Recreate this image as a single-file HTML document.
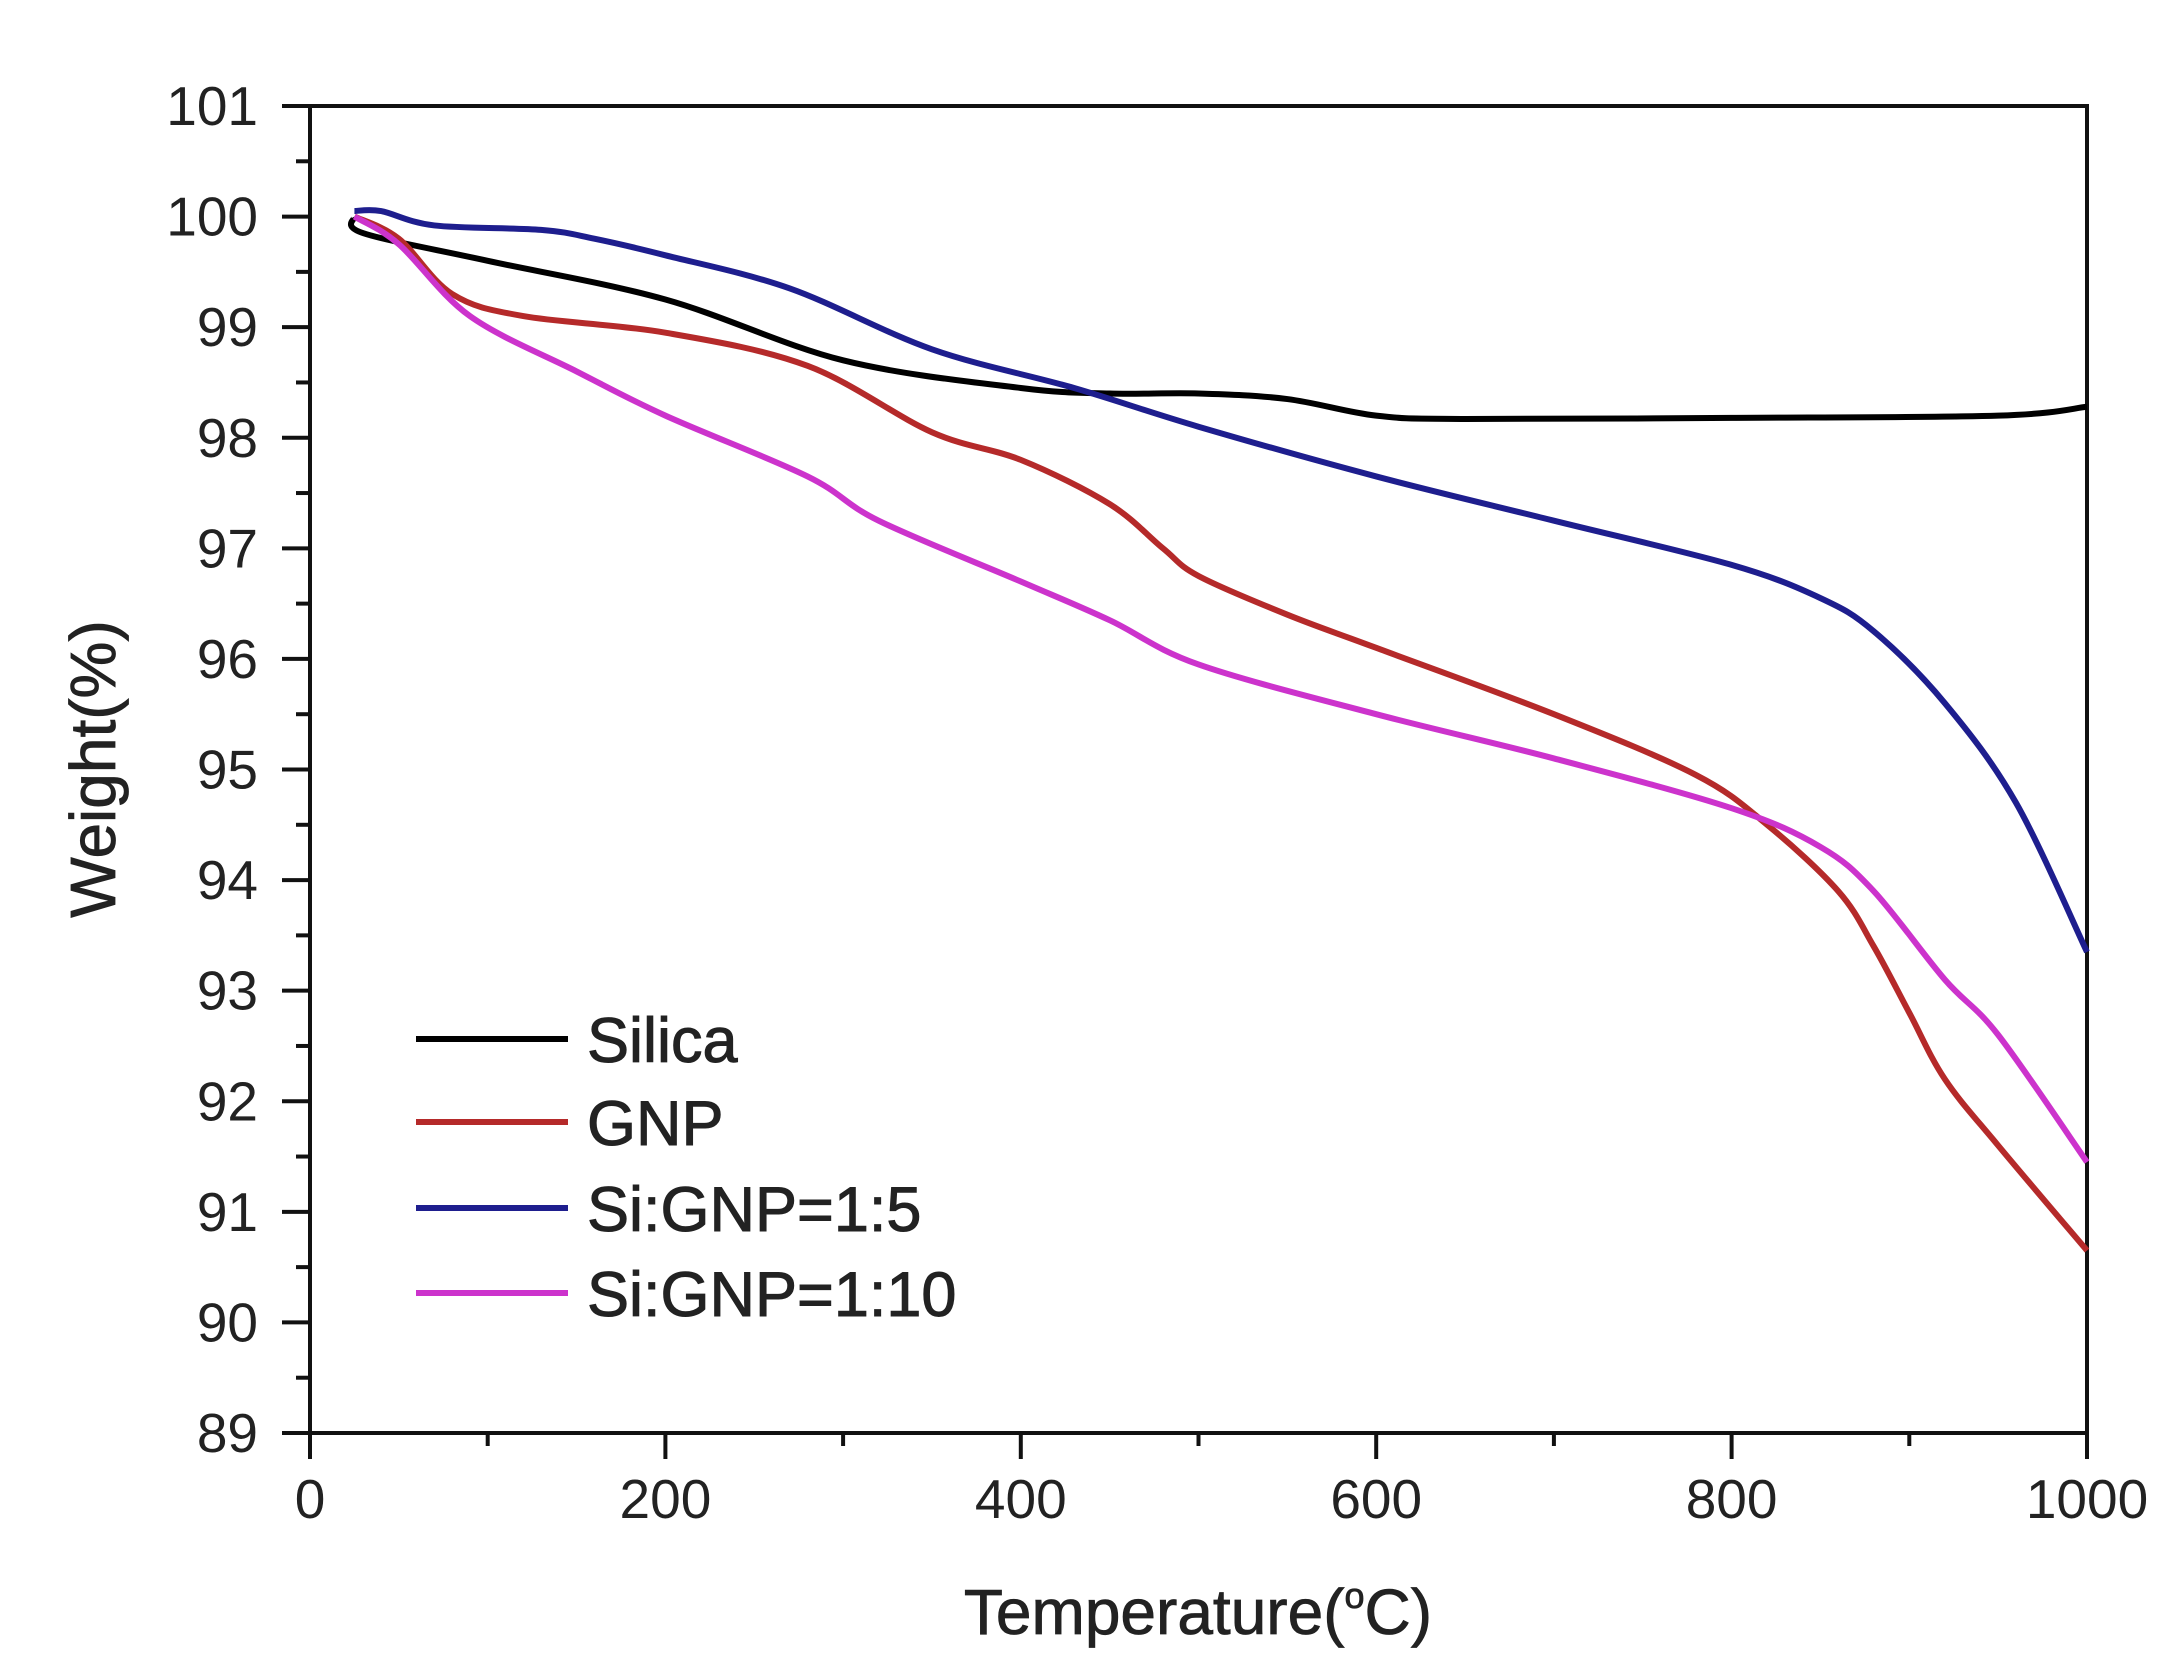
<!DOCTYPE html>
<html><head><meta charset="utf-8"><style>
html,body{margin:0;padding:0;background:#fff}
svg{display:block}
text{font-family:"Liberation Sans",sans-serif;fill:#222}
</style></head><body>
<svg id="chart" width="2171" height="1673" viewBox="0 0 2171 1673" xmlns="http://www.w3.org/2000/svg">
<g id="axes"></g>
<g id="series"></g>
<g id="legend"></g>
<text x="1198" y="1634" font-size="64" text-anchor="middle" stroke="#222" stroke-width="0.8">Temperature(<tspan font-size="36" dy="-26">o</tspan><tspan dy="26">C)</tspan></text>
<text transform="translate(115,769) rotate(-90)" font-size="64" text-anchor="middle" stroke="#222" stroke-width="0.8">Weight(%)</text>
</svg>
<script>
const seriesNames=["Silica","GNP","Si:GNP=1:5","Si:GNP=1:10"];
const seriesColors=["#000000","#b52a2a","#1e1e8e","#cc33cc"];
const silicaT=[25,30,100,200,300,400,450,500,550,600,650,800,950,1000];
const silicaW=[100,99.85,99.6,99.25,98.7,98.45,98.4,98.4,98.35,98.2,98.17,98.18,98.2,98.28];
const gnpT=[25,50,80,120,200,280,350,400,450,480,500,550,600,700,780,820,860,880,900,920,950,1000];
const gnpW=[100,99.8,99.3,99.1,98.95,98.65,98.05,97.8,97.4,97.0,96.75,96.4,96.1,95.5,94.95,94.5,93.9,93.4,92.8,92.2,91.6,90.65];
const s15T=[25,40,70,130,160,200,270,350,430,500,600,700,800,850,880,920,960,1000];
const s15W=[100.05,100.05,99.92,99.88,99.8,99.65,99.35,98.8,98.45,98.1,97.65,97.25,96.85,96.55,96.25,95.6,94.7,93.35];
const s110T=[25,50,90,150,200,280,320,400,450,500,600,700,800,850,880,920,950,1000];
const s110W=[100,99.75,99.1,98.6,98.2,97.65,97.25,96.7,96.35,95.95,95.5,95.1,94.65,94.3,93.9,93.1,92.6,91.45];
const xTicks=[0,200,400,600,800,1000];
const yTicks=[89,90,91,92,93,94,95,96,97,98,99,100,101];

const NS="http://www.w3.org/2000/svg";
const L=310,R=2087,T=106,B=1433;
const xMin=0,xMax=1000,yMin=89,yMax=101;
function sx(v){return L+(v-xMin)/(xMax-xMin)*(R-L);}
function sy(v){return B-(v-yMin)/(yMax-yMin)*(B-T);}
function mk(tag,attrs,parent){const e=document.createElementNS(NS,tag);for(const k in attrs)e.setAttribute(k,attrs[k]);parent.appendChild(e);return e;}

const axes=document.getElementById('axes');
const frame=mk('rect',{x:L,y:T,width:R-L,height:B-T,fill:'none',stroke:'#111','stroke-width':4},axes);


yTicks.forEach((v,i)=>{
  const t=mk('line',{x1:L-28,x2:L,y1:sy(v),y2:sy(v),stroke:'#111','stroke-width':4},axes);
  
  
  if(i<yTicks.length-1){
    const m=mk('line',{x1:L-14,x2:L,y1:sy(v+0.5),y2:sy(v+0.5),stroke:'#111','stroke-width':4},axes);
    
    
  }
  const lb=mk('text',{x:L-52,y:sy(v)+19,'font-size':55,'text-anchor':'end'},axes);
  lb.textContent=v;
  
  
});
xTicks.forEach((v,i)=>{
  const t=mk('line',{x1:sx(v),x2:sx(v),y1:B,y2:B+26,stroke:'#111','stroke-width':4},axes);
  
  
  if(i<xTicks.length-1){
    const m=mk('line',{x1:sx(v+100),x2:sx(v+100),y1:B,y2:B+13,stroke:'#111','stroke-width':4},axes);
    
    
  }
  const lb=mk('text',{x:sx(v),y:B+85,'font-size':55,'text-anchor':'middle'},axes);
  lb.textContent=v;
  
  
});

const ser=document.getElementById('series');
const allT=[silicaT,gnpT,s15T,s110T], allW=[silicaW,gnpW,s15W,s110W];
const lineNames=['silica-line','gnp-line','si-gnp-1-5-line','si-gnp-1-10-line'];
allT.forEach((ts,k)=>{
  const ws=allW[k];
  let pts=ts.map((t,i)=>[sx(t),sy(ws[i])]);
  let d='M'+pts[0][0]+','+pts[0][1];
  for(let i=0;i<pts.length-1;i++){
    const p0=pts[Math.max(0,i-1)],p1=pts[i],p2=pts[i+1],p3=pts[Math.min(pts.length-1,i+2)];
    const c1=[p1[0]+(p2[0]-p0[0])/6,p1[1]+(p2[1]-p0[1])/6];
    const c2=[p2[0]-(p3[0]-p1[0])/6,p2[1]-(p3[1]-p1[1])/6];
    d+=' C'+c1+' '+c2+' '+p2;
  }
  const p=mk('path',{d:d,fill:'none',stroke:seriesColors[k],'stroke-width':6,'stroke-linejoin':'round'},ser);
  
  
});

const leg=document.getElementById('legend');
const legY=[1039,1122,1208,1293];
seriesNames.forEach((n,k)=>{
  const ln=mk('line',{x1:416,x2:568,y1:legY[k],y2:legY[k],stroke:seriesColors[k],'stroke-width':6},leg);
  
  
  const tx=mk('text',{x:587,y:legY[k]+23,'font-size':63,stroke:'#222','stroke-width':1},leg);
  tx.textContent=n;
  
  
});
</script>
</body></html>
